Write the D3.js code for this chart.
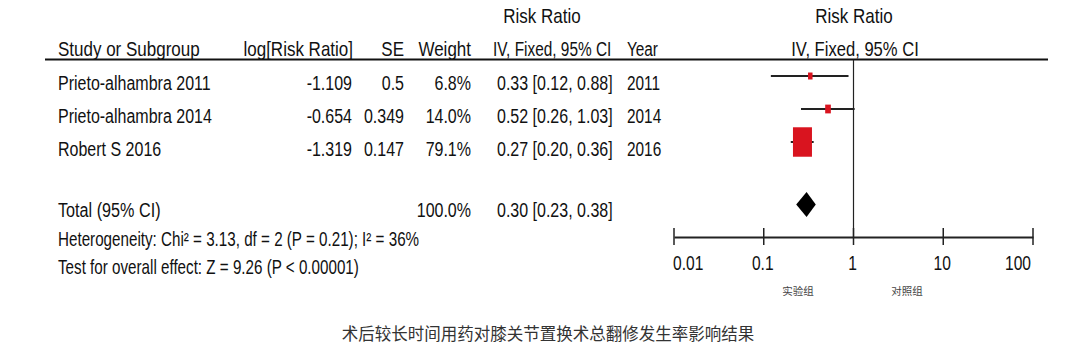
<!DOCTYPE html>
<html><head><meta charset="utf-8">
<script src="https://cdn.jsdelivr.net/npm/d3@7/dist/d3.min.js"></script>
<style>
html,body{margin:0;padding:0;background:#fff;}
svg text{font-family:"Liberation Sans",Arial,sans-serif;fill:#111;}
</style></head>
<body><svg id="c" width="1080" height="356"></svg>
<script>
// ---- data ----
const studies = ["Prieto-alhambra 2011", "Prieto-alhambra 2014", "Robert S 2016"];
const logRR = ["-1.109", "-0.654", "-1.319"];
const se = ["0.5", "0.349", "0.147"];
const weights = [6.8, 14.0, 79.1];
const rr = [0.33, 0.52, 0.27];
const ciLow = [0.12, 0.26, 0.20];
const ciHigh = [0.88, 1.03, 0.36];
const years = ["2011", "2014", "2016"];
const totalRR = 0.30, totalLow = 0.23, totalHigh = 0.38;
const totalWeight = "100.0%";
const axisTicks = [0.01, 0.1, 1, 10, 100];
const axisTickLabels = ["0.01", "0.1", "1", "10", "100"];
const favourLabels = ["实验组", "对照组"];
const heterogeneity = "Heterogeneity: Chi² = 3.13, df = 2 (P = 0.21); I² = 36%";
const overallEffect = "Test for overall effect: Z = 9.26 (P < 0.00001)";
const caption = "术后较长时间用药对膝关节置换术总翻修发生率影响结果";

// ---- drawing ----
const svg = d3.select("#c");
const FS = 20;
const fmt2 = d3.format(".2f");
const x = d3.scaleLog().domain([0.01, 100]).range([674, 1033]);
const rowYs = [76, 109, 142];
const sizeW = d3.scalePow().exponent(0.7).domain([0, 79.1]).range([0, 19]);

function txt(t, xx, yy, anchor, sx, opts) {
  opts = opts || {};
  const e = svg.append("text").attr("x", 0).attr("y", 0)
    .attr("transform", `translate(${xx},${yy}) scale(${sx},1)`)
    .attr("text-anchor", anchor || "start").attr("font-size", opts.fs || FS).text(t);
  if (opts.family) e.style("font-family", opts.family);
  if (opts.fill) e.style("fill", opts.fill);
  return e;
}

// headers
const HS = 0.85;
txt("Risk Ratio", 542, 23, "middle", HS);
txt("Risk Ratio", 854, 23, "middle", HS);
txt("Study or Subgroup", 58, 56, "start", HS);
txt("log[Risk Ratio]", 353, 56, "end", HS);
txt("SE", 404, 56, "end", HS);
txt("Weight", 471, 56, "end", HS);
txt("IV, Fixed, 95% CI", 493, 56, "start", 0.77);
txt("Year", 658, 56, "end", 0.77);
txt("IV, Fixed, 95% CI", 855, 56, "middle", 0.83);
svg.append("line").attr("x1", 45).attr("x2", 1048).attr("y1", 59.5).attr("y2", 59.5)
  .attr("stroke", "#111").attr("stroke-width", 2);

// rows
const RS = 0.8;
studies.forEach((s, i) => {
  const cy = rowYs[i];
  const by = cy + 14;
  txt(s, 58, by, "start", RS);
  txt(logRR[i], 352, by, "end", RS);
  txt(se[i], 404, by, "end", RS);
  txt(weights[i].toFixed(1) + "%", 471, by, "end", RS);
  txt(`${fmt2(rr[i])} [${fmt2(ciLow[i])}, ${fmt2(ciHigh[i])}]`, 497, by, "start", RS);
  txt(years[i], 627, by, "start", 0.77);
  svg.append("line").attr("x1", x(ciLow[i])).attr("x2", x(ciHigh[i]))
    .attr("y1", cy).attr("y2", cy).attr("stroke", "#222").attr("stroke-width", 2);
  const w = Math.max(4.5, sizeW(weights[i]));
  const h = w * 1.55;
  svg.append("rect").attr("x", x(rr[i]) - w / 2).attr("y", cy - h / 2)
    .attr("width", w).attr("height", h).attr("fill", "#d9141f");
});

// total
const ty = 204.5;
txt("Total (95% CI)", 58, 217, "start", 0.81);
txt(totalWeight, 471, 217, "end", RS);
txt(`${fmt2(totalRR)} [${fmt2(totalLow)}, ${fmt2(totalHigh)}]`, 497, 217, "start", RS);
svg.append("path")
  .attr("d", `M${x(totalLow)},${ty} L${x(totalRR)},${ty - 12.5} L${x(totalHigh)},${ty} L${x(totalRR)},${ty + 12.5} Z`)
  .attr("fill", "#000");
txt(heterogeneity, 58, 246, "start", 0.76);
txt(overallEffect, 58, 274, "start", 0.76);

// vertical line at 1
svg.append("line").attr("x1", x(1)).attr("x2", x(1)).attr("y1", 60).attr("y2", 237)
  .attr("stroke", "#222").attr("stroke-width", 1.2);

// axis
const axisG = svg.append("g").attr("transform", "translate(0,237)");
const ax = d3.axisBottom(x).tickValues(axisTicks).tickSize(0).tickFormat(() => "");
axisG.call(ax);
axisG.select(".domain").attr("stroke", "#222").attr("stroke-width", 2);
axisTicks.forEach((t, i) => {
  axisG.append("line").attr("x1", x(t)).attr("x2", x(t)).attr("y1", -9).attr("y2", 8)
    .attr("stroke", "#222").attr("stroke-width", 1.5);
  const anchor = i === 0 ? "start" : (i === axisTicks.length - 1 ? "end" : "middle");
  const dx = i === 0 ? -1 : (i === axisTicks.length - 1 ? -2 : -1);
  axisG.append("text").attr("x", 0).attr("y", 0)
    .attr("transform", `translate(${x(t) + dx},33) scale(0.78,1)`)
    .attr("text-anchor", anchor).attr("font-size", FS).text(axisTickLabels[i]);
});
txt(favourLabels[0], 798, 295, "middle", 1, {fs: 10.5, family: "Noto Sans CJK SC", fill: "#444"});
txt(favourLabels[1], 907, 295, "middle", 1, {fs: 10.5, family: "Noto Sans CJK SC", fill: "#444"});

// caption
txt(caption, 548, 340, "middle", 1, {fs: 16.5, family: "Noto Sans CJK SC", fill: "#333"});
</script></body></html>
